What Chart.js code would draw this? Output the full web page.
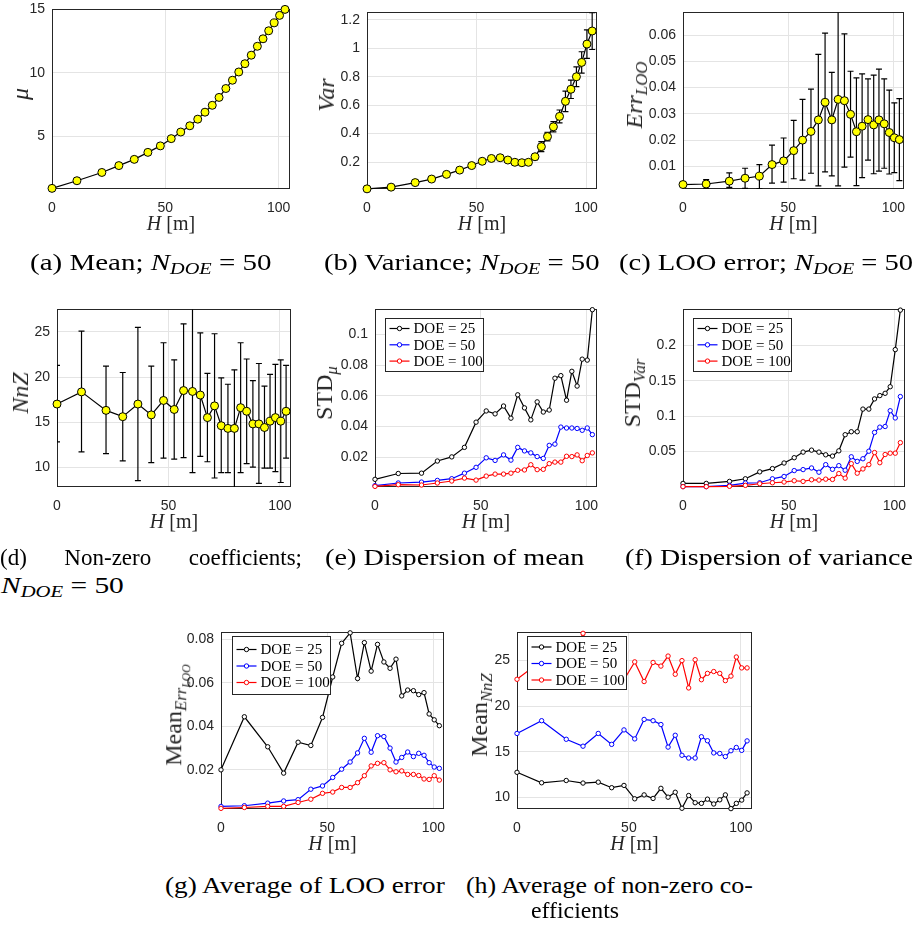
<!DOCTYPE html>
<html>
<head>
<meta charset="utf-8">
<script src="https://cdn.jsdelivr.net/npm/chart.js@4.4.0/dist/chart.umd.min.js"></script>
<style>
  html, body { margin: 0; padding: 0; background: #fff; }
  #fig { position: relative; width: 916px; height: 927px; overflow: hidden; background: #fff; }
  #fig canvas { position: absolute; }
  .yt, .xt { position: absolute; font-family: 'Liberation Serif', serif; color: #262626; white-space: nowrap; line-height: 1; }
  .yt { font-size: 24px; transform: translate(-50%, -50%) rotate(-90deg); }
  .xt { font-size: 20px; transform: translate(-50%, -50%); }
  .cap { position: absolute; font-family: 'Liberation Serif', serif; font-size: 23px; color: #000; white-space: nowrap; line-height: 1; transform-origin: 0 50%; }
  sub { font-size: 70%; vertical-align: -0.3em; line-height: 0; }
</style>
</head>
<body>
<div id="fig"></div>
<script>
/* tower height H [m], shared by every panel */
const H = [0, 11, 22, 29.5, 36.3, 42.3, 47.8, 52.6, 56.8, 60.8, 64.3, 67.5, 70.7, 73.7,
           76.7, 79.6, 82.4, 85.1, 87.9, 90.6, 93.1, 95.6, 98, 100.4, 102.8];
const xTicks = [0, 50, 100];

/* (a) mean */
const meanMu = [0.93, 1.53, 2.18, 2.72, 3.21, 3.76, 4.27, 4.84, 5.36, 5.85, 6.37, 6.92, 7.46,
                8.08, 8.78, 9.43, 10.08, 10.73, 11.40, 12.10, 12.69, 13.32, 13.94, 14.53, 15.0];
const yTicksA = [5, 10, 15];

/* (b) variance, with half-width of the error bar */
const variance = [0.011, 0.023, 0.055, 0.08, 0.113, 0.143, 0.175, 0.205, 0.225, 0.23, 0.214, 0.198,
                  0.195, 0.198, 0.237, 0.308, 0.379, 0.448, 0.521, 0.627, 0.712, 0.8, 0.901, 1.03, 1.122];
const varianceErr = [0.004, 0.005, 0.006, 0.007, 0.008, 0.009, 0.01, 0.011, 0.012, 0.012, 0.012, 0.012,
                     0.012, 0.012, 0.02, 0.035, 0.03, 0.036, 0.045, 0.072, 0.065, 0.07, 0.075, 0.1, 0.13];
const yTicksB = [0.2, 0.4, 0.6, 0.8, 1, 1.2];

/* (c) LOO error, with error bar ends */
const errLoo = [0.0031, 0.0033, 0.0044, 0.0055, 0.0063, 0.0107, 0.0121, 0.016, 0.020, 0.0233, 0.0277, 0.0344,
                0.0277, 0.0355, 0.035, 0.0298, 0.0232, 0.0253, 0.0278, 0.0258, 0.0277, 0.0262, 0.0229, 0.0209, 0.0202];
const errLooHigh = [0.0036, 0.005, 0.0075, 0.0093, 0.0107, 0.0181, 0.0208, 0.0275, 0.0355, 0.0394, 0.0526, 0.0607,
                    0.0458, 0.072, 0.0604, 0.0462, 0.0437, 0.0452, 0.0433, 0.0447, 0.047, 0.0433, 0.039, 0.0342, 0.0358];
const errLooLow = [0.0026, 0.0015, 0.002, 0.0016, 0.0015, 0.0036, 0.004, 0.0053, 0.0048, 0.0074, 0.0026, 0.0079,
                   0.0064, 0.0026, 0.0097, 0.0135, 0.0027, 0.0057, 0.0124, 0.0072, 0.0082, 0.0093, 0.0071, 0.0076, 0.0046];
const yTicksC = [0.01, 0.02, 0.03, 0.04, 0.05, 0.06];

/* (d) non-zero coefficients, with error bar ends */
const nnz = [17.0, 18.35, 16.3, 15.6, 17.0, 15.8, 17.4, 16.4, 18.5, 18.4, 18.0, 15.5, 16.8,
             14.6, 14.3, 14.3, 16.6, 16.2, 14.8, 14.8, 14.4, 15.1, 15.5, 15.1, 16.2];
const nnzHigh = [21.3, 25.1, 21.2, 20.5, 25.5, 21.2, 23.8, 21.9, 25.9, 28.5, 24.9, 20.4, 24.8,
                 19.9, 19.2, 20.8, 23.8, 22.0, 19.6, 21.5, 19.0, 20.3, 21.4, 21.9, 21.3];
const nnzLow = [12.8, 11.7, 11.5, 10.7, 8.5, 10.5, 11.0, 10.9, 11.05, 9.4, 11.2, 10.6, 8.8,
                9.4, 9.4, 7.5, 9.4, 10.4, 10.0, 8.2, 9.9, 9.9, 9.5, 8.3, 11.0];
const yTicksD = [10, 15, 20, 25];

/* (e) dispersion of mean */
const stdMu25 = [0.0056, 0.0094, 0.0096, 0.0175, 0.0202, 0.0264, 0.0428, 0.0501, 0.0482, 0.0533, 0.0454, 0.0606, 0.0521,
                 0.0443, 0.056, 0.0494, 0.0507, 0.0714, 0.0731, 0.0571, 0.0759, 0.0663, 0.0838, 0.0832, 0.116];
const stdMu50 = [0.0015, 0.0032, 0.0038, 0.0049, 0.006, 0.0096, 0.0134, 0.0196, 0.0179, 0.0215, 0.0181, 0.0264, 0.0241,
                 0.0228, 0.0204, 0.0192, 0.0277, 0.0285, 0.0396, 0.039, 0.039, 0.0387, 0.0375, 0.039, 0.0347];
const stdMu100 = [0.001, 0.0021, 0.0019, 0.0032, 0.0045, 0.0064, 0.0051, 0.0077, 0.009, 0.009, 0.0096, 0.0115, 0.0117,
                  0.0151, 0.0119, 0.0121, 0.0158, 0.0168, 0.0168, 0.0206, 0.0204, 0.0215, 0.0177, 0.0211, 0.0228];
const yTicksE = [0.02, 0.04, 0.06, 0.08, 0.1];

/* (f) dispersion of variance */
const stdVar25 = [0.0051, 0.0051, 0.0079, 0.0116, 0.0214, 0.026, 0.0339, 0.0414, 0.0493, 0.0521, 0.0493, 0.0455, 0.0437,
                  0.0511, 0.0739, 0.0781, 0.0781, 0.1101, 0.1101, 0.1245, 0.1292, 0.1324, 0.1417, 0.1942, 0.25];
const stdVar50 = [0.0005, 0.0005, 0.0023, 0.0056, 0.006, 0.0116, 0.0149, 0.0232, 0.0246, 0.0269, 0.0209, 0.0316, 0.025,
                  0.0302, 0.0237, 0.0427, 0.0362, 0.0399, 0.0506, 0.0771, 0.0846, 0.0855, 0.1078, 0.0976, 0.1278];
const stdVar100 = [0.0005, 0.0005, 0.001, 0.0023, 0.0046, 0.006, 0.007, 0.0088, 0.0079, 0.0102, 0.0098, 0.0111, 0.0107,
                   0.019, 0.0125, 0.033, 0.0195, 0.0255, 0.0316, 0.0487, 0.0343, 0.0459, 0.0478, 0.0478, 0.0627];
const yTicksF = [0.05, 0.1, 0.15, 0.2];

/* (g) average LOO error */
const meanErr25 = [0.02, 0.0444, 0.0306, 0.0185, 0.0327, 0.0312, 0.0441, 0.0627, 0.0782, 0.083, 0.062, 0.0785, 0.0654,
                   0.0777, 0.0696, 0.0667, 0.0709, 0.054, 0.0567, 0.0564, 0.0546, 0.0555, 0.0457, 0.043, 0.0403];
const meanErr50 = [0.0032, 0.0035, 0.0047, 0.0057, 0.0063, 0.0111, 0.0126, 0.0165, 0.0203, 0.0236, 0.0278, 0.0345, 0.0281,
                   0.0357, 0.0353, 0.03, 0.0236, 0.0257, 0.0282, 0.0261, 0.0276, 0.0267, 0.0233, 0.0213, 0.0207];
const meanErr100 = [0.0023, 0.0027, 0.0032, 0.0032, 0.005, 0.0065, 0.0092, 0.0098, 0.0119, 0.0119, 0.0141, 0.0173, 0.0218,
                    0.023, 0.0233, 0.02, 0.0191, 0.0195, 0.0179, 0.0179, 0.0174, 0.0158, 0.0156, 0.0173, 0.0153];
const yTicksG = [0.02, 0.04, 0.06, 0.08];

/* (h) average non-zero coefficients */
const meanNnz25 = [12.73, 11.58, 11.83, 11.55, 11.65, 11.04, 11.29, 9.82, 10.25, 9.86, 10.97, 10.0, 10.54,
                   8.78, 10.18, 9.39, 9.32, 9.78, 9.25, 9.71, 10.25, 8.74, 9.32, 9.68, 10.47];
const meanNnz50 = [17.0, 18.4, 16.36, 15.6, 17.0, 15.8, 17.39, 16.4, 18.54, 18.4, 17.98, 15.5, 16.8,
                   14.6, 14.3, 14.3, 16.64, 16.2, 14.86, 14.8, 14.46, 15.1, 15.46, 15.14, 16.18];
const meanNnz100 = [22.95, 25.0, 24.2, 28.0, 24.0, 24.6, 22.9, 24.86, 22.7, 24.8, 24.4, 25.5, 23.5,
                    25.0, 22.0, 25.1, 22.9, 23.6, 23.8, 23.6, 22.8, 23.3, 25.4, 24.2, 24.2];
const yTicksH = [10, 15, 20, 25];

const doeLabels = ['DOE = 25', 'DOE = 50', 'DOE = 100'];

/******************************************************************************
 * plugins
 *****************************************************************************/
// axes box, drawn under the data like matlab
const framePlugin = {
    id: 'frame',
    beforeDatasetsDraw(chart) {
        const { ctx, chartArea: a } = chart;
        const l = Math.round(a.left) + 0.5, t = Math.round(a.top) + 0.5;
        const r = Math.round(a.right) - 0.5, b = Math.round(a.bottom) - 0.5;
        ctx.save();
        ctx.strokeStyle = '#262626';
        ctx.lineWidth = 1;
        ctx.strokeRect(l, t, r - l, b - t);
        ctx.restore();
    }
};

const errPlugin = {
    id: 'errbars',
    beforeDatasetsDraw(chart, args, o) {
        const { ctx, chartArea: a, scales } = chart;
        const pts = chart.data.datasets[0].data;
        ctx.save();
        ctx.beginPath();
        ctx.rect(a.left, a.top, a.right - a.left, a.bottom - a.top);
        ctx.clip();
        ctx.strokeStyle = '#000';
        ctx.lineWidth = 1.2;
        pts.forEach((p, i) => {
            const lo = o.low ? o.low[i] : p.y - o.err[i];
            const hi = o.high ? o.high[i] : p.y + o.err[i];
            const px = scales.x.getPixelForValue(p.x);
            const p1 = scales.y.getPixelForValue(lo);
            const p2 = scales.y.getPixelForValue(hi);
            ctx.beginPath();
            ctx.moveTo(px, p1); ctx.lineTo(px, p2);
            ctx.moveTo(px - 3, p1); ctx.lineTo(px + 3, p1);
            ctx.moveTo(px - 3, p2); ctx.lineTo(px + 3, p2);
            ctx.stroke();
        });
        ctx.restore();
    }
};

// boxed legend inside the axes
const legendPlugin = {
    id: 'doeLegend',
    afterDraw(chart, args, o) {
        const { ctx, chartArea: a } = chart;
        const x0 = Math.round(a.left + o.dx) + 0.5, y0 = Math.round(a.top + o.dy) + 0.5;
        ctx.save();
        ctx.fillStyle = '#fff';
        ctx.strokeStyle = '#262626';
        ctx.lineWidth = 1;
        ctx.fillRect(x0, y0, o.w, o.h);
        ctx.strokeRect(x0, y0, o.w, o.h);
        ctx.font = '15px "Liberation Serif"';
        ctx.textBaseline = 'middle';
        chart.data.datasets.forEach((ds, i) => {
            const cy = y0 + o.first + i * o.step;
            ctx.strokeStyle = ds.borderColor;
            ctx.lineWidth = 1.2;
            ctx.beginPath(); ctx.moveTo(x0 + 4, cy); ctx.lineTo(x0 + 24, cy); ctx.stroke();
            ctx.beginPath(); ctx.arc(x0 + 14, cy, 2.2, 0, 2 * Math.PI);
            ctx.fillStyle = '#fff'; ctx.fill();
            ctx.lineWidth = 1; ctx.stroke();
            ctx.fillStyle = '#000';
            ctx.fillText(ds.label, x0 + 28, cy + 1);
        });
        ctx.restore();
    }
};

/******************************************************************************
 * panels
 *****************************************************************************/
const fig = document.getElementById('fig');
const tickFont = { family: "'Liberation Sans', Arial, sans-serif", size: 14 };
const tickColor = '#262626';
const gridColor = '#e4e4e4';

function yellowSeries(values) {
    return [{ label: '', values: values, color: '#000', edge: '#000', fill: '#ffff00', r: 4 }];
}
function doeSeries(v25, v50, v100) {
    return [
        { label: doeLabels[0], values: v25, color: '#000000', edge: '#000000', fill: '#fff', r: 2.2, order: 2 },
        { label: doeLabels[1], values: v50, color: '#0000ff', edge: '#0000ff', fill: '#fff', r: 2.2, order: 1 },
        { label: doeLabels[2], values: v100, color: '#ff0000', edge: '#ff0000', fill: '#fff', r: 2.2, order: 0 }
    ];
}

function addPanel(p) {
    const padT = 12, padR = 14, axW = 48, axH = 30;
    const cv = document.createElement('canvas');
    cv.width = p.R - p.L + axW + padR;
    cv.height = p.B - p.T + padT + axH;
    cv.style.left = (p.L - axW) + 'px';
    cv.style.top = (p.T - padT) + 'px';
    fig.appendChild(cv);

    new Chart(cv, {
        type: 'line',
        data: {
            datasets: p.series.map(s => ({
                label: s.label,
                data: H.map((h, i) => ({ x: h, y: s.values[i] })),
                borderColor: s.color,
                borderWidth: 1.2,
                pointRadius: s.r,
                pointBorderWidth: 1,
                pointBorderColor: s.edge,
                pointBackgroundColor: s.fill,
                order: s.order || 0,
                clip: false,
                tension: 0
            }))
        },
        options: {
            responsive: false,
            animation: false,
            devicePixelRatio: 1,
            layout: { padding: { top: padT, right: padR, left: 0, bottom: 0 } },
            plugins: {
                legend: { display: false },
                tooltip: { enabled: false },
                errbars: p.err || false,
                doeLegend: p.legend || false
            },
            scales: {
                x: {
                    type: 'linear', min: 0, max: 105,
                    afterBuildTicks: axis => { axis.ticks = xTicks.map(v => ({ value: v })); },
                    afterFit: axis => { axis.height = axH; },
                    grid: { color: gridColor, drawTicks: false },
                    border: { display: false },
                    ticks: { padding: 11, maxRotation: 0, font: tickFont, color: tickColor, callback: v => String(v) }
                },
                y: {
                    type: 'linear', min: p.yMin, max: p.yMax,
                    afterBuildTicks: axis => { axis.ticks = p.yTicks.map(v => ({ value: v })); },
                    afterFit: axis => { axis.width = axW; },
                    grid: { color: gridColor, drawTicks: false },
                    border: { display: false },
                    ticks: { padding: 7, font: tickFont, color: tickColor, callback: v => String(v) }
                }
            }
        },
        plugins: [framePlugin, errPlugin, legendPlugin]
    });

    const xt = document.createElement('div');
    xt.className = 'xt';
    xt.innerHTML = '<i>H</i> [m]';
    xt.style.left = ((p.L + p.R) / 2) + 'px';
    xt.style.top = (p.B + 34) + 'px';
    fig.appendChild(xt);

    const yt = document.createElement('div');
    yt.className = 'yt';
    yt.innerHTML = p.yTitle;
    yt.style.left = (p.L - p.yTitleDx) + 'px';
    yt.style.top = ((p.T + p.B) / 2 - 4) + 'px';
    fig.appendChild(yt);
}

const legendRow12 = { dx: 10, dy: 9, w: 98, h: 53, first: 10, step: 16.3 };

addPanel({ L: 52, T: 6, R: 290, B: 189, yMin: 0.88, yMax: 15, yTicks: yTicksA,
           series: yellowSeries(meanMu), yTitle: '<i>μ</i>', yTitleDx: 32 });
addPanel({ L: 367, T: 9, R: 597, B: 189, yMin: 0.01, yMax: 1.253, yTicks: yTicksB,
           series: yellowSeries(variance), err: { err: varianceErr },
           yTitle: '<i>Var</i>', yTitleDx: 41 });
addPanel({ L: 683, T: 9, R: 904, B: 189, yMin: 0.0014, yMax: 0.0686, yTicks: yTicksC,
           series: yellowSeries(errLoo), err: { low: errLooLow, high: errLooHigh },
           yTitle: '<i>Err</i><sub><i>LOO</i></sub>', yTitleDx: 49 });
addPanel({ L: 57, T: 306, R: 291, B: 487, yMin: 7.8, yMax: 27.5, yTicks: yTicksD,
           series: yellowSeries(nnz), err: { low: nnzLow, high: nnzHigh },
           yTitle: '<i>NnZ</i>', yTitleDx: 37 });
addPanel({ L: 375, T: 306, R: 597, B: 487, yMin: 0.0006, yMax: 0.1162, yTicks: yTicksE,
           series: doeSeries(stdMu25, stdMu50, stdMu100), legend: legendRow12,
           yTitle: 'STD<sub><i>μ</i></sub>', yTitleDx: 51 });
addPanel({ L: 683, T: 306, R: 905, B: 487, yMin: 0, yMax: 0.251, yTicks: yTicksF,
           series: doeSeries(stdVar25, stdVar50, stdVar100), legend: legendRow12,
           yTitle: 'STD<sub><i>Var</i></sub>', yTitleDx: 51 });
addPanel({ L: 221, T: 629, R: 444, B: 809, yMin: 0.002, yMax: 0.0832, yTicks: yTicksG,
           series: doeSeries(meanErr25, meanErr50, meanErr100),
           legend: { dx: 11, dy: 4, w: 98, h: 58, first: 13, step: 16.5 },
           yTitle: 'Mean<sub><i>Err</i><sub><i>LOO</i></sub></sub>', yTitleDx: 47 });
addPanel({ L: 517, T: 629, R: 752, B: 809, yMin: 8.7, yMax: 28.1, yTicks: yTicksH,
           series: doeSeries(meanNnz25, meanNnz50, meanNnz100),
           legend: { dx: 10, dy: 4, w: 99, h: 53, first: 10.5, step: 16.5 },
           yTitle: 'Mean<sub><i>NnZ</i></sub>', yTitleDx: 38 });

/******************************************************************************
 * captions
 *****************************************************************************/
const NDOE = '<i>N</i><sub><i>DOE</i></sub> = 50';
const captions = [
    { html: '(a) Mean; ' + NDOE, x: 30, y: 262, w: 242 },
    { html: '(b) Variance; ' + NDOE, x: 324, y: 262, w: 276 },
    { html: '(c) LOO error; ' + NDOE, x: 619, y: 262, w: 294 },
    { html: NDOE, x: 1, y: 585, w: 123 },
    { html: '(e) Dispersion of mean', x: 325, y: 557, w: 259 },
    { html: '(f) Dispersion of variance', x: 625, y: 557, w: 288 },
    { html: '(g) Average of LOO error', x: 165, y: 885, w: 280 },
    { html: '(h) Average of non-zero co-', x: 466, y: 885, w: 287 },
    { html: 'efficients', x: 531, y: 910, w: 88 }
];
captions.forEach(c => {
    const el = document.createElement('div');
    el.className = 'cap';
    el.innerHTML = c.html;
    el.style.left = c.x + 'px';
    el.style.top = c.y + 'px';
    fig.appendChild(el);
    const s = c.w / el.offsetWidth;
    el.style.transform = 'translateY(-50%) scaleX(' + s.toFixed(3) + ')';
});

// (d) first line is justified over the subfigure width
const capD = document.createElement('div');
capD.className = 'cap';
capD.style.left = '0px';
capD.style.top = '557px';
capD.style.width = '302px';
capD.style.display = 'flex';
capD.style.justifyContent = 'space-between';
capD.style.transform = 'translateY(-50%)';
capD.innerHTML = '<span>(d)</span><span>Non-zero</span><span>coefficients;</span>';
fig.appendChild(capD);
</script>
</body>
</html>
